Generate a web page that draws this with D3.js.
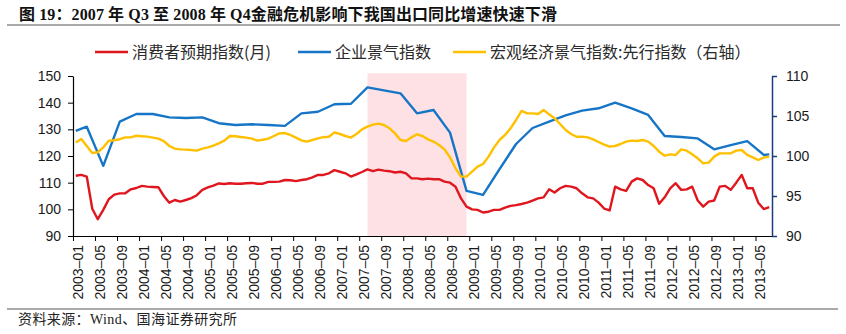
<!DOCTYPE html>
<html>
<head>
<meta charset="utf-8">
<script src="https://cdn.jsdelivr.net/npm/d3@7"></script>
<style>
  body { margin: 0; background: #fff; }
  svg { display: block; }
  .axis .tick text { font-family: "Liberation Sans", Arial, sans-serif; font-size: 14px; fill: #1a1a1a; }
  .cn { font-family: "Liberation Serif", "Noto Sans CJK SC", serif; }
  .legend text { font-family: "Noto Sans CJK SC", sans-serif; font-size: 16px; fill: #2a2a2a; }
</style>
</head>
<body>
<svg id="chart" width="846" height="334"></svg>
<script>
// 月度类目 2003-01 ~ 2013-07
var monthKeys = d3.timeMonth.range(new Date(2003, 0, 1), new Date(2013, 7, 1)).map(d3.timeFormat("%Y-%m"));
var monthIdx = new Map(monthKeys.map(function(k, i) { return [k, i]; }));

var tickLabels = ["2003-01","2003-05","2003-09","2004-01","2004-05","2004-09","2005-01","2005-05",
  "2005-09","2006-01","2006-05","2006-09","2007-01","2007-05","2007-09","2008-01","2008-05",
  "2008-09","2009-01","2009-05","2009-09","2010-01","2010-05","2010-09","2011-01","2011-05",
  "2011-09","2012-01","2012-05","2012-09","2013-01","2013-05"];

// 消费者预期指数(月), 左轴
var consumer = [
  112.6, 112.9, 112.3, 100.2, 96.3, 99.8, 103.8, 105.5, 106.0, 106.0, 107.5, 108.0,
  108.8, 108.5, 108.4, 108.3, 105.0, 102.5, 103.5, 102.9, 103.5, 104.2, 105.3, 107.3,
  108.2, 108.9, 109.7, 109.5, 109.8, 109.6, 109.6, 109.8, 109.9, 109.6, 109.6, 110.3,
  110.3, 110.4, 111.0, 110.9, 110.6, 111.0, 111.3, 112.0, 112.9, 112.9, 113.5, 114.7,
  114.1, 113.5, 112.3, 113.1, 114.0, 115.0, 114.3, 114.9, 114.5, 114.3, 113.8, 114.1,
  113.5, 111.6, 111.6, 111.3, 111.5, 111.3, 111.3, 110.4, 110.0, 108.5, 104.1, 101.0,
  100.0, 99.8, 98.8, 99.1, 99.8, 99.8, 100.6, 101.3, 101.6, 102.0, 102.5, 103.3,
  104.1, 104.5, 107.5, 106.3, 107.9, 108.8, 108.5, 107.9, 106.0, 104.5, 104.1, 102.5,
  100.3, 99.6, 108.5, 107.5, 106.9, 110.4, 111.6, 111.0, 109.1, 107.9, 102.1, 104.5,
  107.9, 109.8, 107.3, 107.5, 108.5, 103.3, 101.0, 102.9, 103.3, 108.5, 108.8, 107.3,
  110.0, 112.9, 107.9, 107.9, 102.5, 100.1, 100.8
];

// 企业景气指数(季), 左轴
var bizDates = ["2003-01","2003-03","2003-06","2003-09","2003-12","2004-03","2004-06","2004-09",
  "2004-12","2005-03","2005-06","2005-09","2005-12","2006-03","2006-06","2006-09","2006-12",
  "2007-03","2007-06","2007-09","2007-12","2008-03","2008-06","2008-09","2008-12","2009-03",
  "2009-06","2009-09","2009-12","2010-03","2010-06","2010-09","2010-12","2011-03","2011-06",
  "2011-09","2011-12","2012-03","2012-06","2012-09","2012-12","2013-03","2013-06","2013-07"];
var bizValues = [129.4, 131.0, 116.3, 132.9, 135.75, 135.75, 134.5, 134.25,
  134.5, 132.3, 131.6, 131.9, 131.6, 131.3, 136.0, 136.6, 139.4,
  139.6, 145.75, 144.6, 143.5, 136.0, 137.25, 128.75, 106.9, 105.4,
  115.1, 124.5, 130.5, 132.9, 135.2, 137.0, 137.9, 140.0, 137.9,
  135.4, 127.5, 127.1, 126.6, 122.5, 124.1, 125.6, 120.4, 120.6];

// 宏观经济景气指数:先行指数, 右轴
var leading = [
  101.7, 102.13, 101.25, 100.37, 100.47, 101.08, 101.9, 101.97, 102.1, 102.33, 102.33, 102.53,
  102.47, 102.42, 102.3, 102.17, 101.87, 101.25, 100.92, 100.83, 100.8, 100.75, 100.67, 100.92,
  101.08, 101.3, 101.58, 101.92, 102.5, 102.47, 102.37, 102.3, 102.17, 101.92, 102.03, 102.17,
  102.5, 102.83, 102.87, 102.63, 102.3, 101.95, 101.8, 102.0, 102.2, 102.35, 102.4, 102.96,
  102.75, 102.5, 102.3, 102.75, 103.33, 103.67, 103.92, 104.04, 103.88, 103.46, 102.83, 102.0,
  101.88, 102.33, 102.71, 102.5, 102.08, 101.8, 101.38, 100.83, 99.83, 98.46, 97.42, 97.42,
  98.04, 98.67, 99.0, 99.92, 101.08, 102.0, 102.63, 103.46, 104.5, 105.63, 105.33, 105.33,
  105.25, 105.75, 105.21, 104.71, 104.0, 103.25, 102.75, 102.4, 102.42, 102.33, 102.08, 101.75,
  101.42, 101.17, 101.25, 101.5, 101.79, 101.92, 101.88, 102.0, 101.79, 101.25, 100.54, 100.04,
  100.21, 100.13, 100.83, 100.67, 100.21, 99.71, 99.08, 99.17, 99.92, 100.33, 100.33, 100.33,
  100.67, 100.75, 100.13, 99.83, 99.5, 99.79, 99.92
];

// 金融危机阴影区间
var crisis = ["2007-06", "2008-12"];
var crisisTop = 151;

var leftTicks = [90, 100, 110, 120, 130, 140, 150];
var rightTicks = [90, 95, 100, 105, 110];

var colors = { consumer: "#e0161e", biz: "#1675c6", leading: "#ffc000", shade: "#fde1e4" };

var svg = d3.select("#chart");

var x = d3.scaleLinear().domain([0, monthKeys.length]).range([73, 772]);
var cx = function(i) { return x(i + 0.5); };
var yL = d3.scaleLinear().domain([90, 150]).range([236, 76]);
var yR = d3.scaleLinear().domain([90, 110]).range([236, 76]);

/* title */
svg.append("text")
  .attr("class", "cn")
  .attr("x", 19)
  .attr("y", 20)
  .attr("font-size", 16)
  .attr("font-weight", "bold")
  .attr("fill", "#111")
  .attr("textLength", 538)
  .attr("lengthAdjust", "spacing")
  .text("图 19：2007 年 Q3 至 2008 年 Q4金融危机影响下我国出口同比增速快速下滑");

svg.append("line")
  .attr("x1", 7).attr("x2", 840)
  .attr("y1", 25).attr("y2", 25)
  .attr("stroke", "#8c8c8c").attr("stroke-width", 1.5);

/* legend */
var legendItems = [
  { name: "消费者预期指数(月)", color: colors.consumer, x: 95 },
  { name: "企业景气指数", color: colors.biz, x: 298 },
  { name: "宏观经济景气指数:先行指数（右轴）", color: colors.leading, x: 453 }
];
var lg = svg.append("g").attr("class", "legend")
  .selectAll("g").data(legendItems).enter().append("g")
  .attr("transform", function(d) { return "translate(" + d.x + ",52)"; });
lg.append("line")
  .attr("x1", 0).attr("x2", 33)
  .attr("stroke", function(d) { return d.color; })
  .attr("stroke-width", 2.5);
lg.append("text")
  .attr("x", 37).attr("y", 5.5)
  .text(function(d) { return d.name; });

/* crisis shade */
svg.append("rect")
  .attr("x", cx(monthIdx.get(crisis[0])))
  .attr("width", cx(monthIdx.get(crisis[1])) - cx(monthIdx.get(crisis[0])))
  .attr("y", yL(crisisTop))
  .attr("height", yL(90) - yL(crisisTop))
  .attr("fill", colors.shade);

/* axes */
var xAxis = d3.axisBottom(x)
  .tickValues(tickLabels.map(function(k) { return monthIdx.get(k); }))
  .tickFormat(function(i) { return monthKeys[i].replace("-", "–"); })
  .tickSize(5)
  .tickSizeOuter(0);

var gx = svg.append("g").attr("class", "axis")
  .attr("transform", "translate(0,236)")
  .call(xAxis);
gx.selectAll(".tick text")
  .attr("transform", "rotate(-90)")
  .attr("text-anchor", "end")
  .attr("x", -9)
  .attr("y", 4.5)
  .attr("dy", "0.35em");
gx.select(".domain").attr("stroke", "#000").attr("stroke-width", 1.2);

var gl = svg.append("g").attr("class", "axis")
  .attr("transform", "translate(73,0)")
  .call(d3.axisLeft(yL).tickValues(leftTicks).tickSize(5).tickSizeOuter(0).tickPadding(7));
gl.select(".domain").attr("stroke", "#000").attr("stroke-width", 1.2);

var gr = svg.append("g").attr("class", "axis")
  .attr("transform", "translate(772,0)")
  .call(d3.axisRight(yR).tickValues(rightTicks).tickSize(5).tickSizeOuter(0).tickPadding(9));
gr.select(".domain").attr("stroke", "#1f3a7a").attr("stroke-width", 1.5);
gr.selectAll(".tick line").attr("stroke", "#1f3a7a").attr("stroke-width", 1.5);

/* series */
var lineL = d3.line().x(function(d, i) { return cx(i); }).y(function(d) { return yL(d); });
var lineR = d3.line().x(function(d, i) { return cx(i); }).y(function(d) { return yR(d); });
var lineBiz = d3.line()
  .x(function(d, i) { return cx(monthIdx.get(bizDates[i])); })
  .y(function(d) { return yL(d); });

svg.append("path")
  .attr("d", lineL(consumer))
  .attr("fill", "none")
  .attr("stroke", colors.consumer)
  .attr("stroke-width", 2.4)
  .attr("stroke-linejoin", "round");

svg.append("path")
  .attr("d", lineBiz(bizValues))
  .attr("fill", "none")
  .attr("stroke", colors.biz)
  .attr("stroke-width", 2.4)
  .attr("stroke-linejoin", "round");

svg.append("path")
  .attr("d", lineR(leading))
  .attr("fill", "none")
  .attr("stroke", colors.leading)
  .attr("stroke-width", 2.4)
  .attr("stroke-linejoin", "round");

/* source */
svg.append("line")
  .attr("x1", 7).attr("x2", 838)
  .attr("y1", 309).attr("y2", 309)
  .attr("stroke", "#8c8c8c").attr("stroke-width", 1.5);

svg.append("text")
  .attr("class", "cn")
  .attr("x", 18)
  .attr("y", 324)
  .attr("font-size", 14)
  .attr("fill", "#222")
  .attr("textLength", 219)
  .attr("lengthAdjust", "spacing")
  .text("资料来源：Wind、国海证券研究所");
</script>
</body>
</html>
